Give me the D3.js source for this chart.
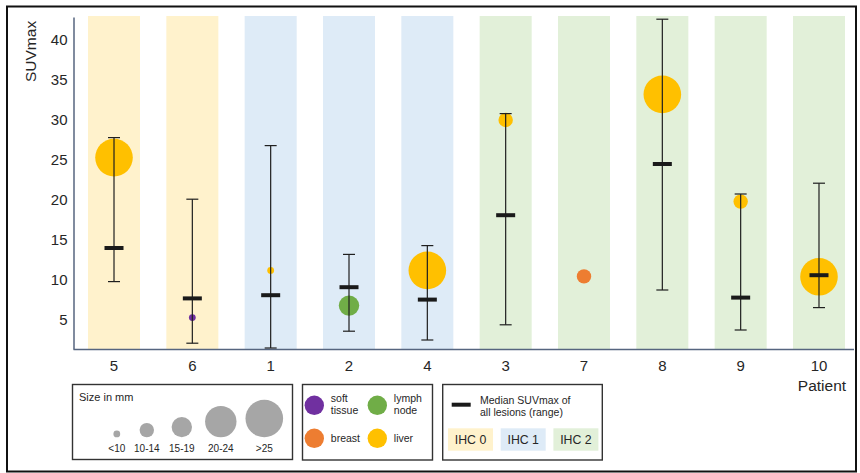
<!DOCTYPE html>
<html>
<head>
<meta charset="utf-8">
<script src="https://cdn.jsdelivr.net/npm/d3@7"></script>
<style>
  body { margin: 0; background: #fff; }
  svg { display: block; font-family: "Liberation Sans", Arial, sans-serif; }
</style>
</head>
<body>
<script>
// patients in plotted order, grouped by IHC score
var patients = ["5", "6", "1", "2", "4", "3", "7", "8", "9", "10"];
var patientIhc = [0, 0, 1, 1, 1, 2, 2, 2, 2, 2];

// median SUVmax of all lesions and its range (patient 7 has a single lesion)
var medianSuv = [14.0, 7.7, 8.1, 9.1, 7.55, 18.1, null, 24.5, 7.8, 10.6];
var rangeMin = [9.8, 2.1, 1.5, 3.6, 2.5, 4.4, null, 8.75, 3.75, 6.55];
var rangeMax = [27.8, 20.1, 26.8, 13.2, 14.3, 30.8, null, 42.6, 20.75, 22.1];

// biopsied lesion per patient
var lesionSuv = [25.3, 5.3, 11.2, 6.8, 11.2, 30.0, 10.45, 33.2, 19.8, 10.4];
var lesionSite = ["liver", "soft tissue", "liver", "lymph node", "liver", "liver", "breast", "liver", "liver", "liver"];
var lesionSize = [">25", "<10", "<10", "15-19", ">25", "10-14", "10-14", ">25", "10-14", ">25"];

var sizeClasses = ["<10", "10-14", "15-19", "20-24", ">25"];
var sites = ["soft tissue", "lymph node", "breast", "liver"];
var ihcClasses = ["IHC 0", "IHC 1", "IHC 2"];
var yTicks = [5, 10, 15, 20, 25, 30, 35, 40];

var W = 860, H = 473;
var textColor = "#262626";

var svg = d3.select("body").append("svg")
    .attr("width", W)
    .attr("height", H);

// outer frame
svg.append("rect")
    .attr("x", 7).attr("y", 6.5)
    .attr("width", 849).attr("height", 465)
    .attr("fill", "none")
    .attr("stroke", "#111")
    .attr("stroke-width", 2);

var x = d3.scaleBand()
    .domain(patients)
    .range([88, 845])
    .paddingInner(0.336)
    .paddingOuter(0);

var y = d3.scaleLinear()
    .domain([1.375, 42.875])
    .range([349, 17]);

var r = d3.scaleOrdinal()
    .domain(sizeClasses)
    .range([3.4, 7.2, 10.2, 15.7, 18.8]);

var siteColor = d3.scaleOrdinal()
    .domain(sites)
    .range(["#7030a0", "#70ad47", "#ed7d31", "#ffc000"]);

var ihcColor = d3.scaleOrdinal()
    .domain([0, 1, 2])
    .range(["#fff2cc", "#deebf7", "#e2f0d9"]);

var rows = patients.map(function (p, i) {
    return {
        patient: p,
        ihc: patientIhc[i],
        median: medianSuv[i],
        lo: rangeMin[i],
        hi: rangeMax[i],
        suv: lesionSuv[i],
        site: lesionSite[i],
        size: lesionSize[i]
    };
});

// IHC background bands
svg.append("g").selectAll("rect")
    .data(rows)
    .enter().append("rect")
    .attr("x", function (d) { return x(d.patient); })
    .attr("y", y.range()[1] - 1)
    .attr("width", x.bandwidth())
    .attr("height", y.range()[0] - y.range()[1] + 1)
    .attr("fill", function (d) { return ihcColor(d.ihc); });

// axes
var yAxis = svg.append("g")
    .attr("transform", "translate(73.5,0)")
    .call(d3.axisLeft(y).tickValues(yTicks).tickSize(0).tickPadding(6));
yAxis.select(".domain").attr("stroke", "#56657f").attr("stroke-width", 1.5);
yAxis.selectAll("text")
    .attr("font-size", 15)
    .attr("fill", textColor)
    .attr("font-family", "Liberation Sans, Arial, sans-serif");

var xAxis = svg.append("g")
    .attr("transform", "translate(0,349.5)")
    .call(d3.axisBottom(x).tickSize(0).tickPadding(11).tickSizeOuter(0));
xAxis.select(".domain")
    .attr("d", "M73.5,0H854")
    .attr("stroke", "#56657f").attr("stroke-width", 1.5);
xAxis.selectAll("text")
    .attr("font-size", 15)
    .attr("fill", textColor)
    .attr("font-family", "Liberation Sans, Arial, sans-serif");

svg.append("text")
    .attr("transform", "translate(36,82) rotate(-90)")
    .attr("font-size", 15.5)
    .attr("fill", textColor)
    .text("SUVmax");

svg.append("text")
    .attr("x", 822).attr("y", 391)
    .attr("text-anchor", "middle")
    .attr("font-size", 15.5)
    .attr("fill", textColor)
    .text("Patient");

// lesions
var cx = function (d) { return x(d.patient) + x.bandwidth() / 2; };

svg.append("g").selectAll("circle")
    .data(rows)
    .enter().append("circle")
    .attr("cx", cx)
    .attr("cy", function (d) { return y(d.suv); })
    .attr("r", function (d) { return r(d.size); })
    .attr("fill", function (d) { return siteColor(d.site); });

// ranges
var withRange = rows.filter(function (d) { return d.median !== null; });
var bars = svg.append("g")
    .attr("stroke", "#1f1f1f")
    .attr("stroke-width", 1.2);

bars.selectAll(".stem")
    .data(withRange)
    .enter().append("line")
    .attr("x1", cx).attr("x2", cx)
    .attr("y1", function (d) { return y(d.lo); })
    .attr("y2", function (d) { return y(d.hi); });

["lo", "hi"].forEach(function (k) {
    bars.selectAll(".cap-" + k)
        .data(withRange)
        .enter().append("line")
        .attr("x1", function (d) { return cx(d) - 6; })
        .attr("x2", function (d) { return cx(d) + 6; })
        .attr("y1", function (d) { return y(d[k]); })
        .attr("y2", function (d) { return y(d[k]); });
});

svg.append("g").selectAll("rect")
    .data(withRange)
    .enter().append("rect")
    .attr("x", function (d) { return cx(d) - 9.5; })
    .attr("y", function (d) { return y(d.median) - 2; })
    .attr("width", 19)
    .attr("height", 4)
    .attr("fill", "#1a1a1a");

// legends
function legendBox(x0, y0, w, h) {
    svg.append("rect")
        .attr("x", x0).attr("y", y0)
        .attr("width", w).attr("height", h)
        .attr("fill", "#fff")
        .attr("stroke", "#333")
        .attr("stroke-width", 1.4);
}

// size legend
legendBox(72.5, 384.5, 220, 75);
svg.append("text")
    .attr("x", 79).attr("y", 400.5)
    .attr("font-size", 11)
    .attr("fill", textColor)
    .text("Size in mm");

var sizeOffset = [0, 30, 65, 104, 147.5];
var sizeLeg = svg.append("g").selectAll("g")
    .data(sizeClasses)
    .enter().append("g")
    .attr("transform", function (d, i) { return "translate(" + (116.8 + sizeOffset[i]) + ",0)"; });
sizeLeg.append("circle")
    .attr("cy", function (d) { return 437.3 - r(d); })
    .attr("r", function (d) { return r(d); })
    .attr("fill", "#a6a6a6");
sizeLeg.append("text")
    .attr("y", 451.5)
    .attr("text-anchor", "middle")
    .attr("font-size", 10)
    .attr("fill", textColor)
    .text(function (d) { return d; });

// site legend
legendBox(302.5, 384.5, 130, 75.5);
var siteLeg = svg.append("g").selectAll("g")
    .data(sites)
    .enter().append("g")
    .attr("transform", function (d, i) {
        return "translate(" + (314.3 + (i % 2) * 63) + "," + (405.3 + Math.floor(i / 2) * 33) + ")";
    });
siteLeg.append("circle")
    .attr("r", 9.7)
    .attr("fill", function (d) { return siteColor(d); });
siteLeg.each(function (d) {
    var words = d.split(" ");
    var t = d3.select(this).append("text")
        .attr("x", 16.5)
        .attr("font-size", 10.5)
        .attr("fill", textColor);
    words.forEach(function (w, j) {
        t.append("tspan")
            .attr("x", 16.5)
            .attr("y", words.length > 1 ? -3.8 + j * 12.6 : 3.2)
            .text(w);
    });
});

// median / IHC legend
legendBox(442.7, 384.5, 159.6, 75.5);
svg.append("rect")
    .attr("x", 451.7).attr("y", 402.7)
    .attr("width", 19).attr("height", 4)
    .attr("fill", "#1a1a1a");
svg.append("text")
    .attr("x", 480).attr("y", 404)
    .attr("font-size", 10.5)
    .attr("fill", textColor)
    .text("Median SUVmax of");
svg.append("text")
    .attr("x", 480).attr("y", 415.8)
    .attr("font-size", 10.5)
    .attr("fill", textColor)
    .text("all lesions (range)");

var ihcLeg = svg.append("g").selectAll("g")
    .data(ihcClasses)
    .enter().append("g")
    .attr("transform", function (d, i) { return "translate(" + (448 + i * 52.7) + ",428.3)"; });
ihcLeg.append("rect")
    .attr("width", 45).attr("height", 22.4)
    .attr("fill", function (d, i) { return ihcColor(i); });
ihcLeg.append("text")
    .attr("x", 22.5).attr("y", 15.8)
    .attr("text-anchor", "middle")
    .attr("font-size", 12.3)
    .attr("fill", textColor)
    .text(function (d) { return d; });
</script>
</body>
</html>
